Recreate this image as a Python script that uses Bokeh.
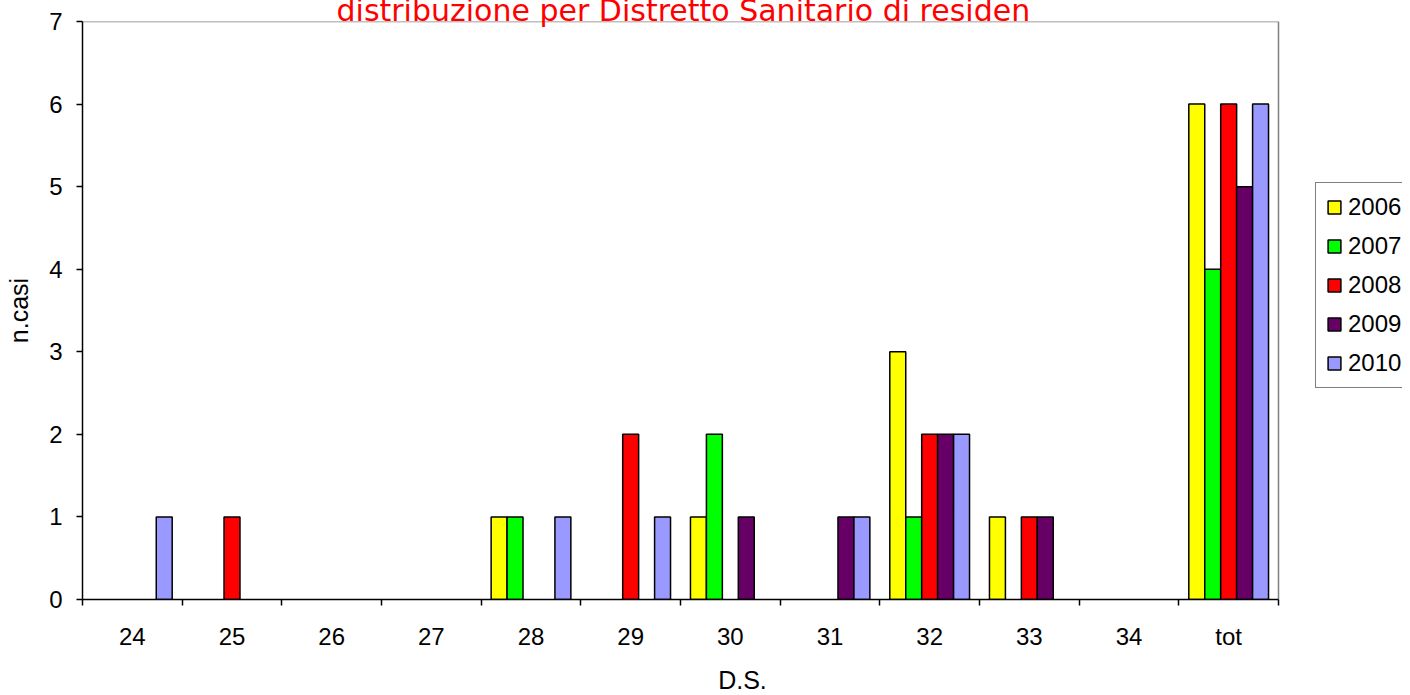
from bokeh.plotting import figure
from bokeh.models import ColumnDataSource, Range1d, FixedTicker, Legend, LegendItem, Title
from bokeh.embed import file_html
from bokeh.resources import INLINE

categories = ["24", "25", "26", "27", "28", "29", "30", "31", "32", "33", "34", "tot"]
years = ["2006", "2007", "2008", "2009", "2010"]
s2006 = [0, 0, 0, 0, 1, 0, 1, 0, 3, 1, 0, 6]
s2007 = [0, 0, 0, 0, 1, 0, 2, 0, 1, 0, 0, 4]
s2008 = [0, 1, 0, 0, 0, 2, 0, 0, 2, 1, 0, 6]
s2009 = [0, 0, 0, 0, 0, 0, 1, 1, 2, 1, 0, 5]
s2010 = [1, 0, 0, 0, 1, 1, 0, 1, 2, 0, 0, 6]
series = [s2006, s2007, s2008, s2009, s2010]
colors = ["#FFFF00", "#00FF00", "#FF0000", "#660066", "#9999FF"]
y_ticks = [0, 1, 2, 3, 4, 5, 6, 7]

FONT = "Liberation Sans"

n = len(categories)
plot_px = 1196.0            # width of the category area
frame_px = 1320             # frame extends to the right edge (legend lives there)
x_end = -0.5 + frame_px * n / plot_px

p = figure(frame_width=frame_px, frame_height=578, output_backend="svg", toolbar_location=None,
           x_range=Range1d(-0.5, x_end), y_range=Range1d(0, 7),
           min_border_left=82, min_border_right=0, min_border_top=21, min_border_bottom=80)
p.background_fill_color = "white"
p.border_fill_color = "white"
p.outline_line_color = None
p.xgrid.visible = False
p.ygrid.visible = False

# grey plot-area border (top and right)
p.segment(x0=[-0.5, n - 0.5], y0=[7, 0], x1=[n - 0.5, n - 0.5], y1=[7, 7],
          line_color="#808080", line_width=1.5)

bw = 0.16
items = []
for j, (yr, vals, col) in enumerate(zip(years, series, colors)):
    xs = [i + (j - 2) * bw for i, v in enumerate(vals) if v > 0]
    ys = [v for v in vals if v > 0]
    src = ColumnDataSource(dict(x=xs, top=ys))
    r = p.vbar(x="x", top="top", bottom=0, width=bw, source=src,
               fill_color=col, line_color="black", line_width=1.5)
    items.append(LegendItem(label=yr, renderers=[r]))

# x axis
xa = p.xaxis[0]
xa.bounds = (-0.5, n - 0.5)
xa.ticker = FixedTicker(ticks=list(range(n)),
                        minor_ticks=[i - 0.5 for i in range(n + 1)])
xa.major_label_overrides = {i: c for i, c in enumerate(categories)}
xa.major_tick_out = 0
xa.major_tick_in = 0
xa.minor_tick_out = 6
xa.minor_tick_in = 0
xa.minor_tick_line_color = "black"
xa.minor_tick_line_width = 1.5
xa.axis_line_color = "black"
xa.axis_line_width = 1.5
xa.major_label_text_font = FONT
xa.major_label_text_font_size = "24px"
xa.major_label_text_color = "black"
xa.major_label_standoff = 17
xa.axis_label = "D.S."
xa.axis_label_text_font = FONT
xa.axis_label_text_font_size = "25px"
xa.axis_label_text_font_style = "normal"
xa.axis_label_text_color = "black"
xa.axis_label_standoff = 13

ya = p.yaxis[0]
ya.ticker = FixedTicker(ticks=y_ticks, minor_ticks=[])
ya.major_tick_out = 6
ya.major_tick_in = 0
ya.major_tick_line_color = "black"
ya.major_tick_line_width = 1.5
ya.minor_tick_out = 0
ya.minor_tick_in = 0
ya.axis_line_color = "black"
ya.axis_line_width = 1.5
ya.major_label_text_font = FONT
ya.major_label_text_font_size = "24px"
ya.major_label_text_color = "black"
ya.major_label_standoff = 14
ya.axis_label = "n.casi"
ya.axis_label_text_font = FONT
ya.axis_label_text_font_size = "25px"
ya.axis_label_text_font_style = "normal"
ya.axis_label_text_color = "black"
ya.axis_label_standoff = 13

legend = Legend(items=items, location=(1233, 211))
legend.border_line_color = "black"
legend.border_line_width = 1.5
legend.background_fill_color = "white"
legend.background_fill_alpha = 1
legend.padding = 10
legend.margin = 0
legend.spacing = 11
legend.glyph_width = 16
legend.glyph_height = 16
legend.label_height = 27
legend.label_standoff = 6
legend.label_text_font = FONT
legend.label_text_font_size = "24px"
legend.label_text_color = "black"
p.add_layout(legend)

title = Title(text="distribuzione per Distretto Sanitario di residen",
              align="left", offset=254, vertical_align="top", standoff=-16,
              text_color="red", text_font="DejaVu Sans", text_font_size="30px",
              text_font_style="normal")
p.add_layout(title, "above")

open("out.html", "w").write(file_html(p, INLINE))
